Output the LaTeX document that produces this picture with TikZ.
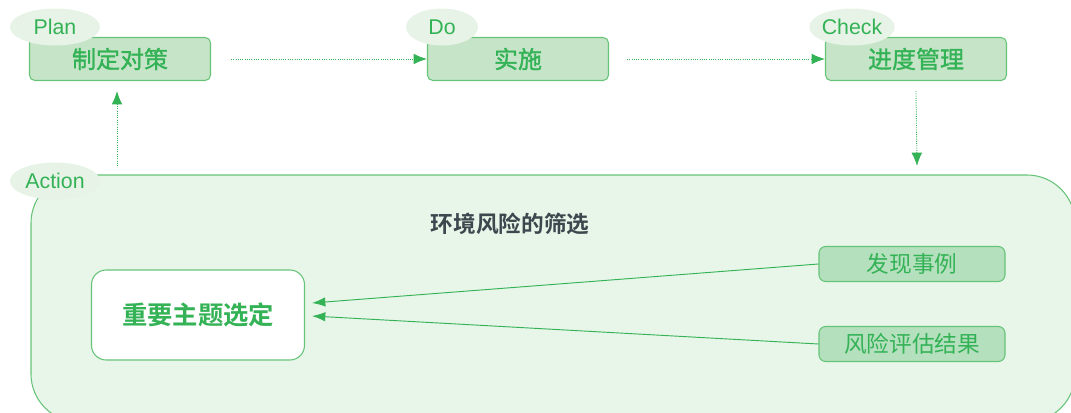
\documentclass[tikz,border=0pt]{standalone}
\usepackage{fontspec}
\setmainfont{Liberation Sans}
\newfontfamily\cjk{Noto Sans CJK SC}
\newfontfamily\cjkmid[FakeBold=1.2]{Noto Sans CJK SC}
\newfontfamily\cjkbold{Noto Sans CJK SC Bold}
\usetikzlibrary{shapes.geometric,arrows.meta}
\definecolor{pdcaGreen}{RGB}{52,178,86}
\definecolor{lineGreen}{RGB}{102,196,120}
\definecolor{boxFill}{RGB}{198,229,200}
\definecolor{tagFill}{RGB}{230,243,230}
\definecolor{panelFill}{RGB}{232,245,233}
\definecolor{subFill}{RGB}{180,224,190}
\definecolor{titleGray}{RGB}{60,72,78}
\newcommand{\px}{0.75pt}

\tikzset{
  stepbox/.style={draw=lineGreen, fill=boxFill, rounded corners=4pt, line width=0.8pt,
    minimum width=181*\px, minimum height=43*\px, inner sep=0pt,
    text=pdcaGreen, font=\cjkmid\fontsize{18pt}{20pt}\selectfont},
  tag/.style={ellipse, fill=tagFill, minimum width=90*\px, minimum height=37*\px,
    inner sep=0pt, text=pdcaGreen, font=\fontsize{16pt}{18pt}\selectfont},
  subbox/.style={draw=lineGreen, fill=subFill, rounded corners=5pt, line width=0.8pt,
    minimum width=186*\px, minimum height=35*\px, inner sep=0pt,
    text=pdcaGreen, font=\cjk\fontsize{17pt}{19pt}\selectfont},
  flow/.style={pdcaGreen, densely dotted, line width=0.7pt, -{Latex[length=10pt,width=8pt]}},
  feed/.style={pdcaGreen, line width=0.7pt, -{Latex[length=10pt,width=7pt]}}
}

\begin{document}
\begin{tikzpicture}[x=0.75pt, y=-0.75pt]
			\useasboundingbox (0,0) rectangle (1071,413);
			\clip (0,0) rectangle (1071,413);

			% Action panel
			\draw[draw=lineGreen, fill=panelFill, line width=0.8pt, rounded corners=36pt] (31,175) rectangle (1075,422);

			\draw (120,59) node[stepbox] (plan) {制定对策};
			\draw (518,59) node[stepbox] (do) {实施};
			\draw (916,59) node[stepbox] (check) {进度管理};

			\draw (55,27) node[tag] (plantag) {Plan};
			\draw (442,27) node[tag, minimum width=72*\px] (dotag) {Do};
			\draw (852,27) node[tag, minimum width=84*\px] (checktag) {Check};
			\draw (55,181) node[tag] (actiontag) {Action};

			\draw (510,224) node[text=titleGray, font=\cjkbold\fontsize{17pt}{19pt}\selectfont] (title) {环境风险的筛选};

			\draw (198,315) node[draw=lineGreen, fill=white, rounded corners=11pt, line width=0.8pt,
				minimum width=213*\px, minimum height=90*\px, text=pdcaGreen,
				font=\cjkbold\fontsize{19pt}{21pt}\selectfont] (theme) {重要主题选定};

			\draw (912,264) node[subbox] (cases) {发现事例};
			\draw (912,344) node[subbox] (risk) {风险评估结果};

			\coordinate (actiontop) at (117,166);
			\coordinate (panelin) at (917,166);
			\coordinate (themein1) at (312,303);
			\coordinate (themein2) at (312,316);

			\path
			(plan.east) ++(20,0) coordinate (p1)
			(check.south) ++(0,10) coordinate (c1)
			(plan.south) ++(-3,10) coordinate (a1)
			;

			\draw[flow] (p1) -- (do.west);
			\draw[flow] (do.east) ++(18,0) -- (check.west);
			\draw[flow] (c1) -- (panelin);
			\draw[flow] (actiontop) -- (a1);

			\draw[feed] (cases.west) -- (themein1);
			\draw[feed] (risk.west) -- (themein2);
		\end{tikzpicture}
\end{document}
